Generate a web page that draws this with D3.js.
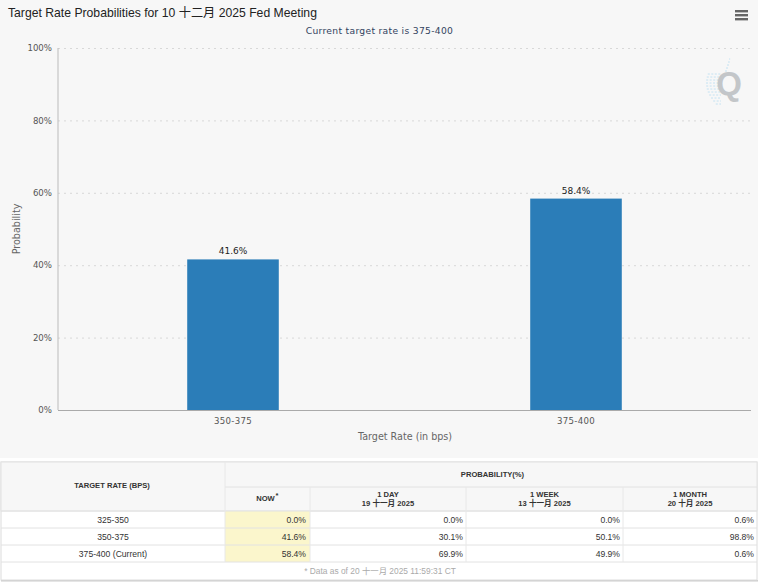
<!DOCTYPE html>
<html>
<head>
<meta charset="utf-8">
<script src="https://cdn.jsdelivr.net/npm/d3@7"></script>
<style>
html, body { margin: 0; padding: 0; background: #fff; }
svg { display: block; }
.y-axis path { display: none; }
.y-axis .tick line { stroke: #d8d8d8; stroke-dasharray: 2,4; }
.y-axis .tick text { font-family: 'DejaVu Sans', sans-serif; font-size: 8.6px; fill: #555; }
.x-axis path { display: none; }
.x-axis .tick line { display: none; }
.x-axis .tick text { font-family: 'DejaVu Sans', sans-serif; font-size: 8.6px; fill: #555; letter-spacing: .3px; }
</style>
</head>
<body>
<svg></svg>
<script>
// data

const categories = ['350-375', '375-400'];
const probabilities = [41.6, 58.4];
const yTicks = [0, 20, 40, 60, 80, 100];

const rowLabels = ['325-350', '350-375', '375-400 (Current)'];
const nowValues = ['0.0%', '41.6%', '58.4%'];
const dayValues = ['0.0%', '30.1%', '69.9%'];
const weekValues = ['0.0%', '50.1%', '49.9%'];
const monthValues = ['0.6%', '98.8%', '0.6%'];
const columnHeads = [
  ['1 DAY', '19 十一月 2025'],
  ['1 WEEK', '13 十一月 2025'],
  ['1 MONTH', '20 十月 2025']
];

const sans = "'Liberation Sans', 'Noto Sans CJK SC', sans-serif";
const chartFont = "'DejaVu Sans', 'Noto Sans CJK SC', sans-serif";

const svg = d3.select('svg').attr('width', 760).attr('height', 584);


// chart background

svg.append('rect')
  .attr('width', 758)
  .attr('height', 458)
  .style('fill', '#f7f7f7');


// title

svg.append('text')
  .attr('x', 8)
  .attr('y', 17)
  .text('Target Rate Probabilities for 10 十二月 2025 Fed Meeting')
  .style('font-family', sans)
  .style('font-size', '12.2px')
  .style('fill', '#222');

svg.append('text')
  .attr('x', 379.5)
  .attr('y', 34)
  .attr('text-anchor', 'middle')
  .text('Current target rate is 375-400')
  .style('font-family', chartFont)
  .style('font-size', '9.2px')
  .style('letter-spacing', '.3px')
  .style('fill', '#33435f');


// hamburger menu

const menuG = svg.append('g').attr('transform', 'translate(735,10)');

menuG.selectAll('rect')
  .data(d3.range(3))
  .enter()
    .append('rect')
    .attr('y', d => d * 4)
    .attr('width', 13)
    .attr('height', 2.4)
    .style('fill', '#666');


// axes

const plot = { left: 58, right: 751, top: 48, bottom: 410 };

const xScale = d3.scaleBand()
  .domain(categories)
  .range([61.5, 747.5])
  .paddingInner(0.733)
  .paddingOuter(0.3665);

const yScale = d3.scaleLinear()
  .domain([0, 100])
  .range([plot.bottom, plot.top]);

const yAxis = d3.axisLeft(yScale)
  .tickValues(yTicks)
  .tickSize(plot.left - plot.right)
  .tickPadding(6)
  .tickFormat(d => d + '%');

const yAxisG = svg.append('g')
  .attr('class', 'y-axis')
  .attr('transform', `translate(${plot.left},0)`)
  .call(yAxis);

yAxisG.selectAll('.tick')
  .filter(d => d === 0)
  .select('line')
  .style('display', 'none');

svg.append('line')
  .attr('x1', plot.left)
  .attr('x2', plot.left)
  .attr('y1', plot.top)
  .attr('y2', plot.bottom)
  .style('stroke', '#bbb');

svg.append('line')
  .attr('x1', plot.left)
  .attr('x2', plot.right)
  .attr('y1', plot.bottom + 0.5)
  .attr('y2', plot.bottom + 0.5)
  .style('stroke', '#aaa');

const xAxis = d3.axisBottom(xScale)
  .tickSize(0)
  .tickSizeOuter(0)
  .tickPadding(8);

svg.append('g')
  .attr('class', 'x-axis')
  .attr('transform', `translate(0,${plot.bottom})`)
  .call(xAxis);

svg.append('text')
  .attr('transform', `translate(20,${(plot.top + plot.bottom) / 2}) rotate(-90)`)
  .attr('text-anchor', 'middle')
  .text('Probability')
  .style('font-family', chartFont)
  .style('font-size', '9.6px')
  .style('fill', '#666');

svg.append('text')
  .attr('x', 405)
  .attr('y', 440)
  .attr('text-anchor', 'middle')
  .text('Target Rate (in bps)')
  .style('font-family', chartFont)
  .style('font-size', '9.6px')
  .style('fill', '#666');


// bars

const barsG = svg.append('g');

barsG.selectAll('rect')
  .data(probabilities)
  .enter()
    .append('rect')
    .attr('x', (d, i) => xScale(categories[i]))
    .attr('y', d => yScale(d))
    .attr('width', xScale.bandwidth())
    .attr('height', d => plot.bottom - yScale(d))
    .style('fill', '#2b7db8');

barsG.selectAll('text')
  .data(probabilities)
  .enter()
    .append('text')
    .attr('x', (d, i) => xScale(categories[i]) + xScale.bandwidth() / 2)
    .attr('y', d => yScale(d) - 5)
    .attr('text-anchor', 'middle')
    .text(d => d.toFixed(1) + '%')
    .style('font-family', chartFont)
    .style('font-size', '9px')
    .style('fill', '#222');


// logo

const logoG = svg.append('g').attr('transform', 'translate(729,83)');

// dotted fan behind the Q
logoG.selectAll('line')
  .data(d3.range(-8, 8))
  .enter()
    .append('line')
    .attr('x1', d => d < -3 ? -8 - d : -23 + d * d * 0.2)
    .attr('x2', d => d < -3 ? -2 - d * 0.4 : -8)
    .attr('y1', d => d * 3)
    .attr('y2', d => d * 3)
    .style('stroke', '#c4e2f2')
    .style('stroke-dasharray', '2,1.5');

logoG.append('text')
  .attr('x', 0)
  .attr('y', 12)
  .attr('text-anchor', 'middle')
  .text('Q')
  .style('font-family', sans)
  .style('font-weight', 'bold')
  .style('font-size', '33px')
  .style('fill', '#c3c6c9');


// table

const colX = [1, 225, 310, 466, 623, 757];
const rowY = [487, 511, 528, 545, 562];
const tableTop = 462, tableBottom = 580;

const tableG = svg.append('g');

// soft shadow under the table
tableG.append('rect')
  .attr('x', colX[0])
  .attr('y', tableBottom)
  .attr('width', colX[5] - colX[0] + 1)
  .attr('height', 1.5)
  .style('fill', '#ccc');

tableG.append('rect')
  .attr('x', colX[0])
  .attr('y', tableTop)
  .attr('width', colX[5] - colX[0])
  .attr('height', tableBottom - tableTop)
  .style('fill', '#fff')
  .style('stroke', '#dcdcdc');

tableG.append('rect')
  .attr('x', colX[0])
  .attr('y', tableTop)
  .attr('width', colX[5] - colX[0])
  .attr('height', rowY[1] - tableTop)
  .style('fill', '#f7f7f7')
  .style('stroke', '#e2e2e2');

tableG.append('rect')
  .attr('x', colX[1])
  .attr('y', rowY[1])
  .attr('width', colX[2] - colX[1])
  .attr('height', rowY[4] - rowY[1])
  .style('fill', '#fbf6cc');

// grid lines
tableG.selectAll('line.h')
  .data(rowY.slice(1))
  .enter()
    .append('line')
    .attr('x1', colX[0])
    .attr('x2', colX[5])
    .attr('y1', d => d)
    .attr('y2', d => d)
    .style('stroke', '#e2e2e2');

tableG.append('line')
  .attr('x1', colX[1])
  .attr('x2', colX[5])
  .attr('y1', rowY[0])
  .attr('y2', rowY[0])
  .style('stroke', '#e2e2e2');

tableG.selectAll('line.v')
  .data(colX.slice(1, 5))
  .enter()
    .append('line')
    .attr('x1', d => d)
    .attr('x2', d => d)
    .attr('y1', (d, i) => i === 0 ? tableTop : rowY[0])
    .attr('y2', rowY[4])
    .style('stroke', '#e8e8e8');

function cell(x, y, str, anchor, opts = {}) {
  return tableG.append('text')
    .attr('x', x)
    .attr('y', y)
    .attr('text-anchor', anchor)
    .text(str)
    .style('font-family', sans)
    .style('font-size', opts.size || '8.6px')
    .style('font-weight', opts.weight || 'normal')
    .style('fill', opts.fill || '#333');
}

const head = { size: '7.6px', weight: 'bold', fill: '#333' };

cell((colX[0] + colX[1]) / 2 - 1, 488, 'TARGET RATE (BPS)', 'middle', head);
cell(492.5, 476.5, 'PROBABILITY(%)', 'middle', head);
cell((colX[1] + colX[2]) / 2 - 2, 501, 'NOW', 'middle', head);
cell(277, 498, '*', 'middle', head);

columnHeads.forEach((lines, i) => {
  const cx = (colX[i + 2] + colX[i + 3]) / 2;
  cell(cx, 497, lines[0], 'middle', head);
  cell(cx, 506, lines[1], 'middle', head);
});

const valueColumns = [nowValues, dayValues, weekValues, monthValues];

rowLabels.forEach((label, r) => {
  const y = rowY[r + 1] + 12;
  cell(113, y, label, 'middle');
  valueColumns.forEach((values, c) => {
    cell(colX[c + 2] - (c === 0 ? 4 : 3), y, values[r], 'end');
  });
});

cell(380, 574, '* Data as of 20 十一月 2025 11:59:31 CT', 'middle', { size: '8.4px', fill: '#aaa' });
</script>
</body>
</html>
